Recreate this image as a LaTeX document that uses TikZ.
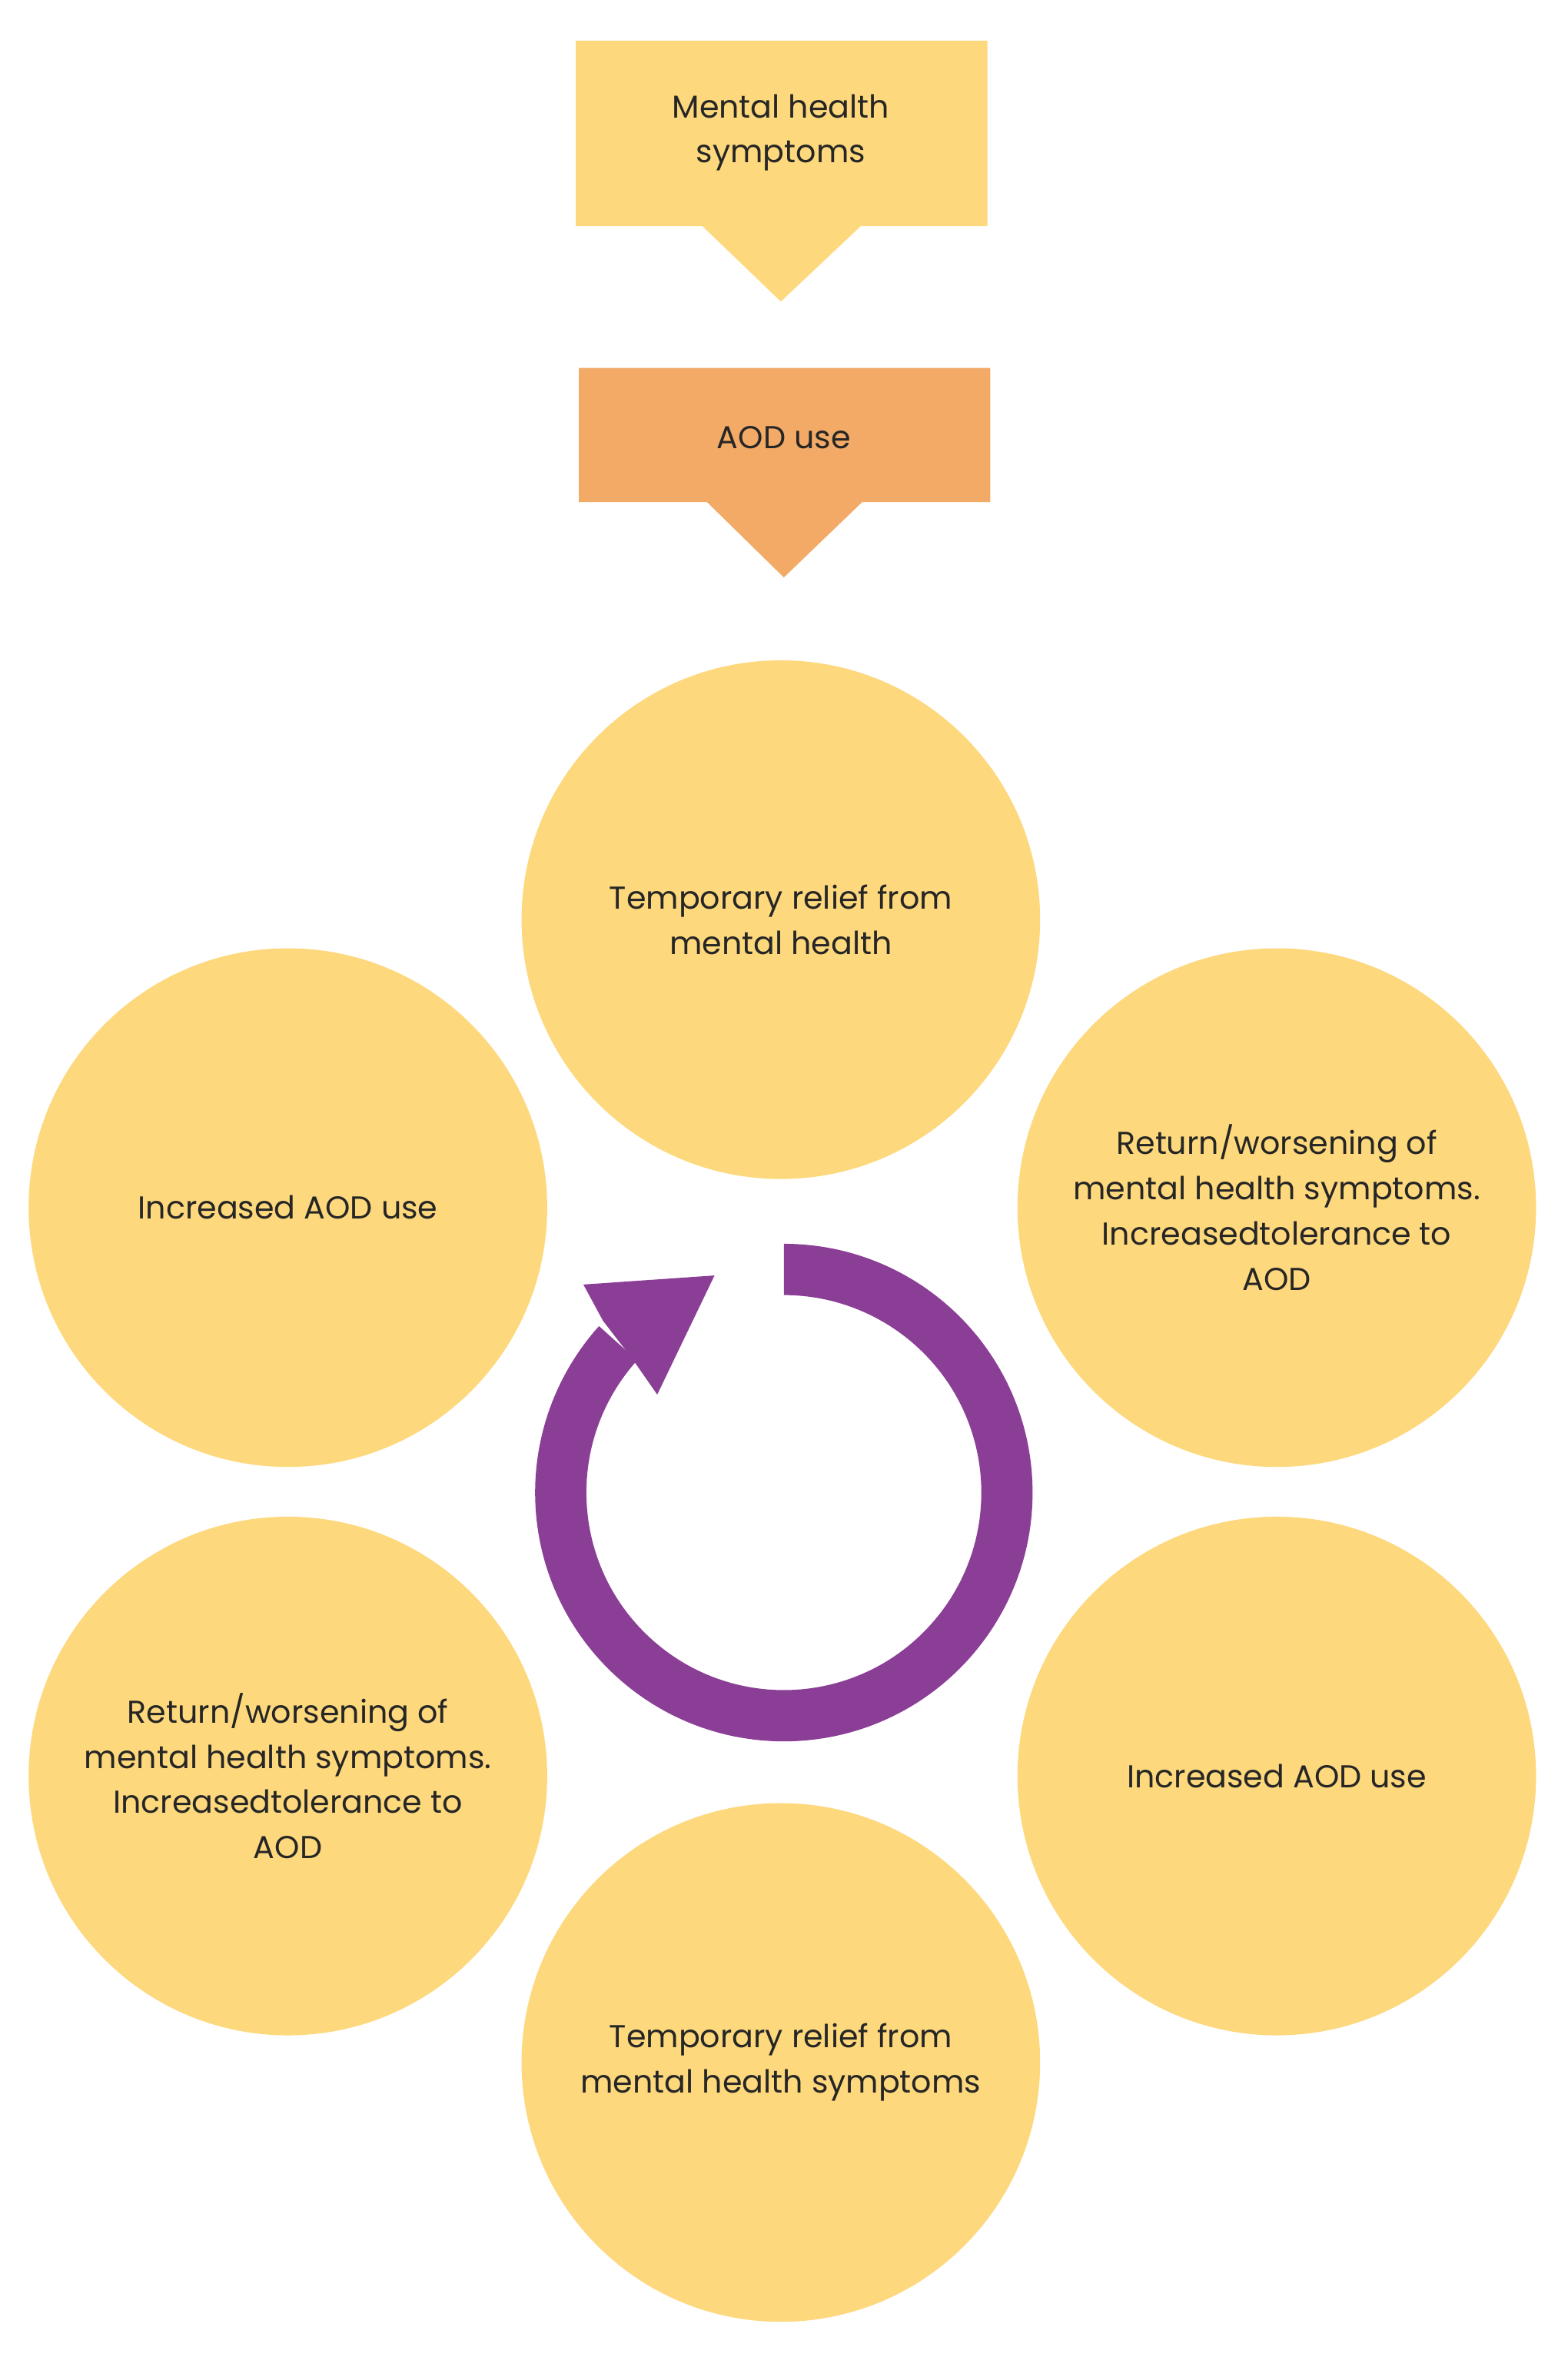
\documentclass[tikz,border=0pt]{standalone}
\usepackage{fontspec}
\setmainfont{Poppins}
\definecolor{cy}{HTML}{FDD87C}
\definecolor{co}{HTML}{F2AA66}
\definecolor{cp}{HTML}{8B3E96}
\begin{document}
\begin{tikzpicture}[x=1pt,y=-1pt,
  circ/.style={circle,fill=cy,minimum size=344pt,inner sep=0pt,align=center,font=\fontsize{21}{30}\selectfont,text=black!85},
  lbl/.style={align=center,font=\fontsize{21}{30}\selectfont,text=black!85}]
\useasboundingbox (0,0) rectangle (1040,1570);
\fill[white] (0,0) rectangle (1040,1570);
\fill[cy] (382,27) -- (655,27) -- (655,150) -- (571,150) -- (518,200) -- (466,150) -- (382,150) -- cycle;
\node[lbl] (ms) at (518,88) {Mental health\\symptoms};
\fill[co] (384,244) -- (657,244) -- (657,333) -- (572,333) -- (520,383) -- (469,333) -- (384,333) -- cycle;
\node[lbl] (aod) at (520,290) {AOD use};
\node[circ] (c1) at (518,610) {Temporary relief from\\mental health};
\node[circ] (c2) at (191,801) {Increased AOD use};
\node[circ] (c3) at (847,801) {Return/worsening of\\mental health symptoms.\\Increasedtolerance to\\AOD};
\node[circ] (c4) at (191,1178) {Return/worsening of\\mental health symptoms.\\Increasedtolerance to\\AOD};
\node[circ] (c5) at (847,1178) {Increased AOD use};
\node[circ] (c6) at (518,1368) {Temporary relief from\\mental health symptoms};
\coordinate (rc) at (520,990);
\fill[cp] ([shift={(-90:165)}]rc) arc[start angle=-90,end angle=222,radius=165]
  -- ([shift={(222:131)}]rc) arc[start angle=222,end angle=-90,radius=131] -- cycle;
\fill[cp] (387,852) -- (474,846) -- (436,925) -- (420,902) -- (400,876) -- cycle;
\end{tikzpicture}
\end{document}
